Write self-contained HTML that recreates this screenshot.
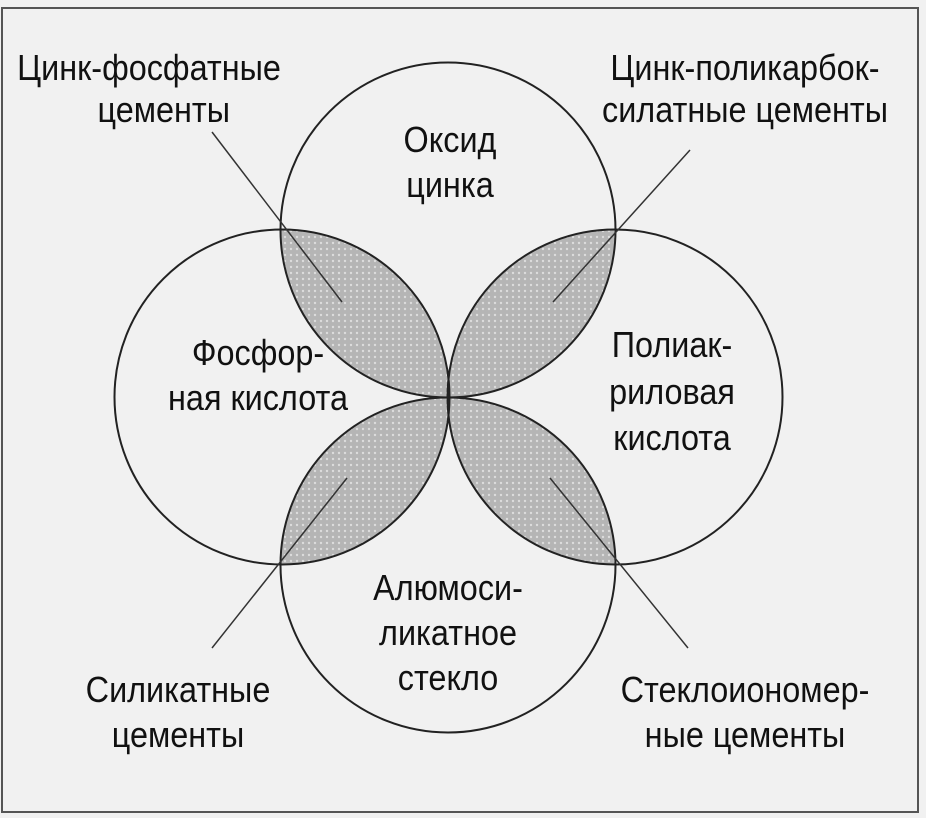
<!DOCTYPE html>
<html><head><meta charset="utf-8"><style>
html,body{margin:0;padding:0;background:#fff;}
svg{display:block;}
text{font-family:"Liberation Sans",sans-serif;font-size:36px;fill:#111;text-anchor:middle;}
</style></head><body>
<svg width="926" height="818" viewBox="0 0 926 818" xmlns="http://www.w3.org/2000/svg">
<defs>
<pattern id="dots" width="6" height="6" patternUnits="userSpaceOnUse">
<rect width="6" height="6" fill="#b5b5b5"/>
<circle cx="3" cy="3" r="1.2" fill="#dcdcdc"/>
</pattern>
<clipPath id="cT"><circle cx="448" cy="230" r="167.5"/></clipPath>
<clipPath id="cB"><circle cx="448" cy="565" r="167.5"/></clipPath>
</defs>
<rect x="0" y="0" width="926" height="818" fill="#f1f1f1"/>
<rect x="2" y="8" width="916" height="804" fill="none" stroke="#555" stroke-width="2"/>
<g clip-path="url(#cT)">
<circle cx="282" cy="397" r="167.5" fill="url(#dots)"/>
<circle cx="615" cy="397" r="167.5" fill="url(#dots)"/>
</g>
<g clip-path="url(#cB)">
<circle cx="282" cy="397" r="167.5" fill="url(#dots)"/>
<circle cx="615" cy="397" r="167.5" fill="url(#dots)"/>
</g>
<g fill="none" stroke="#222" stroke-width="2">
<circle cx="448" cy="230" r="167.5"/>
<circle cx="282" cy="397" r="167.5"/>
<circle cx="615" cy="397" r="167.5"/>
<circle cx="448" cy="565" r="167.5"/>
</g>
<g stroke="#333" stroke-width="1.5">
<line x1="212" y1="132" x2="342" y2="302"/>
<line x1="690" y1="150" x2="553" y2="302"/>
<line x1="212" y1="648" x2="347" y2="478"/>
<line x1="688" y1="648" x2="550" y2="478"/>
</g>
<g transform="scale(0.9,1)">
<text x="165.6" y="80">Цинк-фосфатные</text>
<text x="182" y="122">цементы</text>
<text x="827.8" y="80">Цинк-поликарбок-</text>
<text x="827.8" y="122">силатные цементы</text>
<text x="500" y="152">Оксид</text>
<text x="500" y="197">цинка</text>
<text x="286.7" y="365">Фосфор-</text>
<text x="286.7" y="410">ная кислота</text>
<text x="746.7" y="357">Полиак-</text>
<text x="746.7" y="404">риловая</text>
<text x="746.7" y="450">кислота</text>
<text x="497.8" y="600">Алюмоси-</text>
<text x="497.8" y="645">ликатное</text>
<text x="497.8" y="690">стекло</text>
<text x="197.8" y="702">Силикатные</text>
<text x="197.8" y="747">цементы</text>
<text x="827.8" y="702">Стеклоиономер-</text>
<text x="827.8" y="747">ные цементы</text>
</g>
</svg>
</body></html>
